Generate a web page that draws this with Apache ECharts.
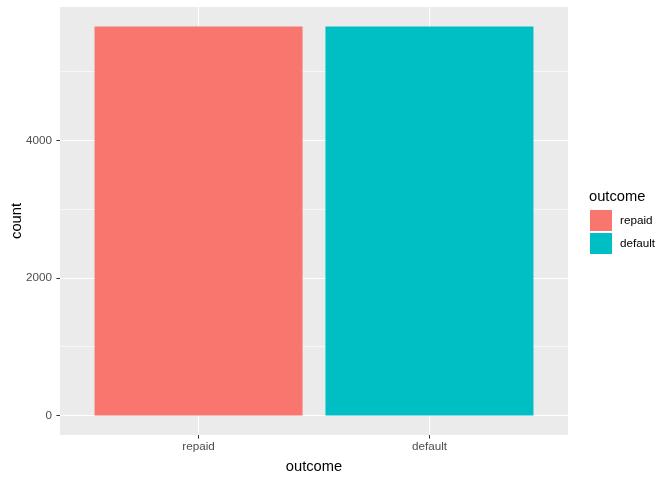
<!DOCTYPE html>
<html>
<head>
<meta charset="utf-8">
<script src="https://cdn.jsdelivr.net/npm/echarts@6/dist/echarts.min.js"></script>
<style>html,body{margin:0;padding:0;background:#fff;}#c{width:672px;height:480px;}</style>
</head>
<body>
<div id="c"></div>
<script>
const categories = ['repaid', 'default'];
const counts = [5654, 5654];
const colors = ['#F8766D', '#00BFC4'];
const yMajorTicks = [0, 2000, 4000];
const yMinorTicks = [1000, 3000, 5000];

const FONT = 'Liberation Sans, Arial, sans-serif';
const maxVal = Math.max(...counts);
const expand = maxVal * 0.05;

const chart = echarts.init(document.getElementById('c'), null, {renderer: 'canvas'});

const series = categories.map((c, i) => ({
  name: c,
  type: 'bar',
  xAxisIndex: 0,
  yAxisIndex: 0,
  barWidth: 208,
  barGap: '-100%',
  itemStyle: {color: colors[i], borderWidth: 0},
  data: [[i + 1, counts[i]]]
}));

chart.setOption({
  animation: false,
  textStyle: {fontFamily: FONT},
  grid: {left: 60, right: 104, top: 7, bottom: 45, show: true, backgroundColor: '#EBEBEB', borderWidth: 0,
         containLabel: false, outerBoundsMode: 'none'},
  title: {
    text: 'outcome', left: 589, top: 189, padding: 0,
    textStyle: {fontFamily: FONT, fontSize: 14.7, fontWeight: 'normal', color: '#000'}
  },
  legend: {
    orient: 'vertical', left: 590, top: 210, padding: 0,
    itemWidth: 22, itemHeight: 21, itemGap: 2,
    icon: 'rect',
    data: categories,
    textStyle: {fontFamily: FONT, fontSize: 11.7, color: '#000', padding: [0, 0, 0, 3]}
  },
  xAxis: {
    type: 'value',
    min: 0.4, max: 2.6,
    name: 'outcome', nameLocation: 'middle', nameGap: 24, nameMoveOverlap: false,
    nameTextStyle: {fontFamily: FONT, fontSize: 14.7, color: '#000'},
    axisLine: {show: false, onZero: false},
    axisTick: {show: true, length: 3.6, lineStyle: {color: '#333333', width: 1}, customValues: [1, 2]},
    axisLabel: {
      customValues: [1, 2], margin: 6,
      fontFamily: FONT, fontSize: 11.7, color: '#4D4D4D',
      formatter: v => categories[Math.round(v) - 1] || ''
    },
    splitLine: {show: true, lineStyle: {color: '#FFFFFF', width: 1.07}}
  },
  yAxis: [{
    type: 'value',
    min: -expand, max: maxVal + expand,
    name: 'count', nameLocation: 'middle', nameGap: 36, nameRotate: 90, nameMoveOverlap: false,
    nameTextStyle: {fontFamily: FONT, fontSize: 14.7, color: '#000'},
    axisLine: {show: false, onZero: false},
    axisTick: {show: true, length: 3.6, lineStyle: {color: '#333333', width: 1}, customValues: yMajorTicks},
    axisLabel: {customValues: yMajorTicks, margin: 8, fontFamily: FONT, fontSize: 11.7, color: '#4D4D4D',
                formatter: v => String(Math.round(v))},
    splitLine: {show: true, lineStyle: {color: '#FFFFFF', width: 1.07}}
  }, {
    type: 'value',
    min: -expand, max: maxVal + expand,
    position: 'left',
    axisLine: {show: false, onZero: false},
    axisTick: {show: false, customValues: yMinorTicks},
    axisLabel: {show: false, customValues: yMinorTicks},
    splitLine: {show: true, lineStyle: {color: '#FFFFFF', width: 0.6}}
  }],
  series: series
});
</script>
</body>
</html>
